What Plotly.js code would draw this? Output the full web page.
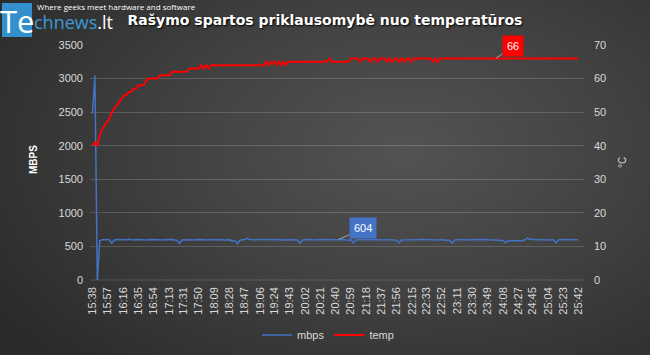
<!DOCTYPE html>
<html><head><meta charset="utf-8">
<script src="https://cdn.plot.ly/plotly-3.0.1.min.js"></script>
<style>
html,body{margin:0;padding:0;width:650px;height:355px;overflow:hidden;
background:radial-gradient(ellipse 75% 85% at 62% 42%, #535353 0%, #424242 45%, #2a2a2a 100%);}
#chart{width:650px;height:355px;}
</style></head><body><div id="chart"></div>
<script>
// ---- data ----
const timeLabels = ["15:38","15:57","16:16","16:35","16:54","17:13","17:31","17:50","18:09","18:28","18:47",
  "19:06","19:24","19:43","20:02","20:21","20:40","20:59","21:18","21:37","21:56","22:15","22:33","22:52",
  "23:11","23:30","23:49","24:08","24:27","24:45","25:04","25:23","25:42"];
const startSec = 938;   // 15:38
const stepSec = 3;      // one sample every 3 s
const mbps = [
  2480,3050,0,585,598,600,602,598,548,596,603,600,605,597,601,606,599,596,602,600,
  598,604,600,597,602,599,603,598,601,596,600,604,599,602,597,590,545,596,601,598,
  603,600,597,602,605,599,601,596,603,600,598,602,606,599,597,601,604,598,575,590,
  540,588,598,603,622,604,599,601,597,602,600,605,598,601,596,603,599,602,597,600,
  604,598,601,597,602,590,548,595,601,599,603,597,600,605,598,602,599,596,603,600,
  598,601,604,599,602,597,592,601,550,596,603,599,601,597,604,600,598,602,599,601,
  597,603,600,598,602,596,590,552,597,601,604,598,600,603,597,601,599,605,598,602,
  600,597,603,599,601,598,602,596,590,548,595,600,604,598,601,597,603,599,600,602,
  598,601,597,603,600,599,602,597,601,594,588,555,582,586,584,588,583,587,585,595,
  625,606,600,603,598,601,599,604,597,602,600,596,552,597,602,599,603,600,598,601,
  604,600];
const temp = [
  40,41,40,43,45,46,47,48,50,51,52,53,54,55,55,56,56,57,57,58,
  58,58,59,60,60,60,60,60,61,61,61,61,61,62,62,62,62,62,62,62,
  63,63,63,63,63,64,63,64,63,64,64,64,64,64,64,64,64,64,64,64,
  64,64,64,64,64,64,64,64,64,64,64,64,65,64,65,65,64,65,64,65,
  64,65,65,65,65,65,65,65,65,65,65,65,65,65,65,65,65,65,66,65,
  65,65,65,65,65,65,65,66,66,66,66,65,66,66,66,65,66,66,65,66,
  66,66,65,66,65,66,66,65,66,65,66,66,65,66,66,66,66,66,66,66,
  66,65,66,65,66,66,66,66,66,66,66,66,66,66,66,66,66,66,66,66,
  66,66,66,66,66,66,66,66,66,66,66,66,66,66,66,66,66,66,66,66,
  66,66,66,66,66,66,66,66,66,66,66,66,66,66,66,66,66,66,66,66,
  66,66];
const mbpsLabelIndex = 102;
const tempLabelIndex = 167;

// ---- build ----
const toSec = s => { const p = s.split(':').map(Number); return p[0]*60 + p[1]; };
const xs = mbps.map((_, i) => startSec + i*stepSec);
const tickVals = timeLabels.map(toSec);

// plot area in pixels (for placing decorations)
const L = 90, R = 584, T = 45, B = 280;
const px = x => (x - L) / (R - L);
const py = y => (B - y) / (B - T);

const tickFont = {family: "Liberation Sans, Arial, sans-serif", size: 11, color: "#d9d9d9"};
const gridC = "rgba(255,255,255,0.16)";

const traces = [
  {x: xs, y: mbps, name: "mbps", type: "scatter", mode: "lines",
   line: {color: "#4472c4", width: 1.5}, yaxis: "y"},
  {x: xs, y: temp, name: "temp", type: "scatter", mode: "lines",
   line: {color: "#ff0000", width: 2}, yaxis: "y2"}
];

const annotations = [
  // logo tagline
  {xref:"paper", yref:"paper", x: px(35), y: py(6), xanchor:"left", yanchor:"middle", showarrow:false,
   text:"Where geeks meet hardware and software", font:{family:"Open Sans, sans-serif", size:8, color:"#ffffff"}},
  {xref:"paper", yref:"paper", x: px(17), y: py(21), xanchor:"center", yanchor:"middle", showarrow:false,
   text:"Te", font:{family:"Open Sans, sans-serif", size:31, color:"#ffffff"}},
  {xref:"paper", yref:"paper", x: px(32), y: py(22), xanchor:"left", yanchor:"middle", showarrow:false,
   text:"<span style='color:#3b9ad6'>chnews</span>.lt", font:{family:"Open Sans, sans-serif", size:18, color:"#ffffff"}},
  // axis titles
  {xref:"paper", yref:"paper", x: px(33), y: py(160), xanchor:"center", yanchor:"middle", showarrow:false,
   textangle:-90, text:"<b>MBPS</b>", font:{family:"Liberation Sans, Arial, sans-serif", size:10, color:"#ffffff"}},
  {xref:"paper", yref:"paper", x: px(622), y: py(163), xanchor:"center", yanchor:"middle", showarrow:false,
   textangle:-90, text:"°C", font:{family:"Liberation Sans, Arial, sans-serif", size:10, color:"#d9d9d9"}},
  // data labels
  {x: xs[tempLabelIndex], y: temp[tempLabelIndex], xref:"x", yref:"y2", text: String(temp[tempLabelIndex]),
   showarrow:true, arrowhead:0, arrowwidth:1, arrowcolor:"#a6a6a6", ax:17, ay:-12,
   bgcolor:"#ff0000", borderpad:4, font:{family:"Liberation Sans, Arial, sans-serif", size:11, color:"#ffffff"}},
  {x: xs[mbpsLabelIndex], y: mbps[mbpsLabelIndex], xref:"x", yref:"y", text: String(mbps[mbpsLabelIndex]),
   showarrow:true, arrowhead:0, arrowwidth:1, arrowcolor:"#a6a6a6", ax:24, ay:-11,
   bgcolor:"#4472c4", borderpad:4, font:{family:"Liberation Sans, Arial, sans-serif", size:11, color:"#ffffff"}}
];

const layout = {
  width: 650, height: 355,
  margin: {l: L, r: 650 - R, t: T, b: 355 - B, pad: 0, autoexpand: false},
  paper_bgcolor: "rgba(0,0,0,0)", plot_bgcolor: "rgba(0,0,0,0)",
  title: {text: "<b>Rašymo spartos priklausomybė nuo temperatūros</b>", xref:"container", x: 0.5, xanchor:"center",
    yref:"container", y: 1 - 20/355, yanchor:"middle",
    font: {family: "DejaVu Sans, sans-serif", size: 14, color: "#ffffff", shadow: "1px 1px 2px #000000"}},
  xaxis: {range: [startSec - 2.5/0.805, startSec + (R - 92.5)/0.805], tickvals: tickVals, ticktext: timeLabels,
    tickangle: -90, tickfont: tickFont, showgrid: false, zeroline: false, showline: false, ticks: "",
    ticklabelstandoff: 4, automargin: false},
  yaxis: {range: [0, 3500], dtick: 500, tickfont: tickFont, gridcolor: gridC, gridwidth: 1,
    zeroline: false, showline: false, ticks: "", ticklabelstandoff: 6, automargin: false},
  yaxis2: {range: [0, 70], dtick: 10, overlaying: "y", side: "right", tickfont: tickFont,
    showgrid: false, zeroline: false, showline: false, ticks: "", ticklabelstandoff: 9, automargin: false},
  showlegend: true,
  legend: {orientation: "h", x: px(328), xanchor: "center", y: py(335), yanchor: "middle", itemwidth: 30,
    font: {family: "Liberation Sans, Arial, sans-serif", size: 11, color: "#d9d9d9"}, bgcolor: "rgba(0,0,0,0)"},
  shapes: [
    {type:"rect", xref:"paper", yref:"paper", x0: px(2), x1: px(32), y0: py(37), y1: py(3),
     fillcolor:"#3390cc", line:{width:0}, layer:"below"},
    {type:"line", xref:"paper", yref:"paper", x0: 0, x1: 1, y0: 0, y1: 0, line:{color: gridC, width:1}}
  ],
  annotations: annotations
};

Plotly.newPlot("chart", traces, layout, {displayModeBar: false, staticPlot: true});
</script></body></html>
